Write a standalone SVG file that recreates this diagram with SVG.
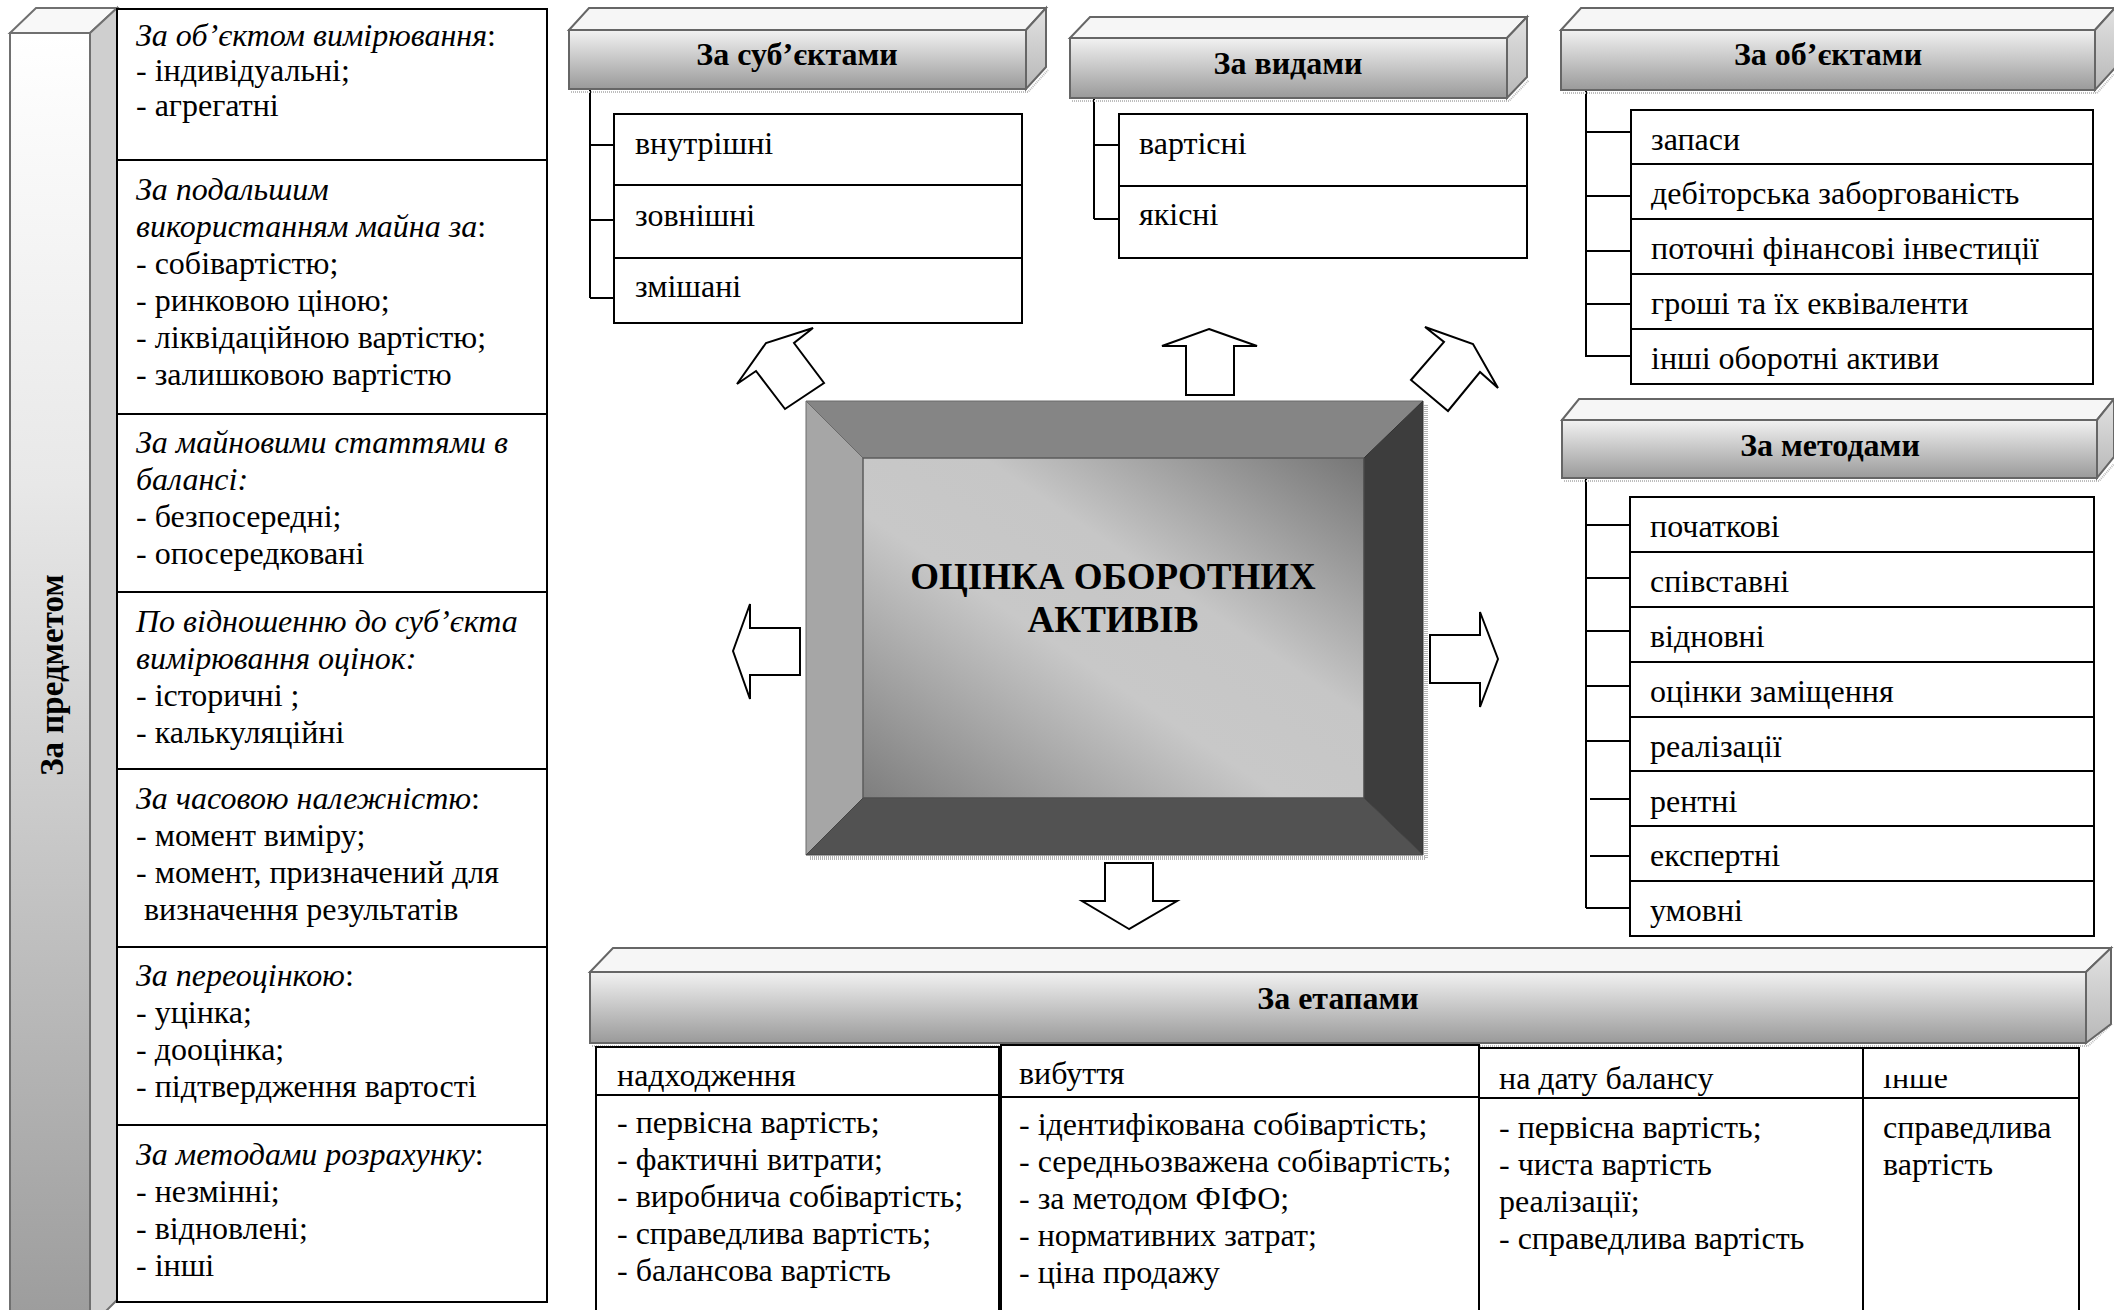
<svg xmlns="http://www.w3.org/2000/svg" width="2114" height="1310" viewBox="0 0 2114 1310">
<defs>
<style>
.t{font-family:"Liberation Serif","Times New Roman",serif;font-size:32px;fill:#000}
.i{font-style:italic}
.h{font-family:"Liberation Serif","Times New Roman",serif;font-size:32px;font-weight:bold;text-anchor:middle;fill:#000}
.box{fill:#fff;stroke:#000;stroke-width:2}
.ln{stroke:#000;stroke-width:2;fill:none}
.arr{fill:#fff;stroke:#000;stroke-width:2}
.hf{fill:url(#gFront);stroke:#666;stroke-width:2}
.ht{fill:#f6f6f6;stroke:#666;stroke-width:2}
.hs{fill:url(#gSide);stroke:#666;stroke-width:2}
.sh{fill:none;stroke:#bdbdbd;stroke-width:2;stroke-dasharray:1 1}
</style>
<linearGradient id="gFront" x1="0" y1="0" x2="0" y2="1">
<stop offset="0" stop-color="#f2f2f2"/><stop offset="1" stop-color="#9a9a9a"/>
</linearGradient>
<linearGradient id="gSide" x1="0" y1="0" x2="0" y2="1">
<stop offset="0" stop-color="#e2e2e2"/><stop offset="1" stop-color="#b8b8b8"/>
</linearGradient>
<linearGradient id="gPillar" x1="0" y1="0" x2="0" y2="1">
<stop offset="0" stop-color="#ffffff"/><stop offset="0.35" stop-color="#e8e8e8"/><stop offset="1" stop-color="#9c9c9c"/>
</linearGradient>
<linearGradient id="gCenter" x1="0" y1="1" x2="1" y2="0">
<stop offset="0" stop-color="#7e7e7e"/><stop offset="0.42" stop-color="#c8c8c8"/><stop offset="0.62" stop-color="#c6c6c6"/><stop offset="1" stop-color="#767676"/>
</linearGradient>
<clipPath id="clipInshe"><rect x="1870" y="1075" width="200" height="22"/></clipPath>
</defs>
<rect width="2114" height="1310" fill="#fff"/>

<!-- Pillar "За предметом" -->
<g id="node-predmet">
<rect x="10" y="33" width="80" height="1290" fill="url(#gPillar)" stroke="#707070" stroke-width="2"/>
<polygon points="10,33 36,8 117,8 90,33" fill="#f8f8f8" stroke="#707070" stroke-width="2"/>
<polygon points="90,33 117,8 117,1300 90,1327" fill="#cfcfcf" stroke="#707070" stroke-width="2"/>
<text class="h" transform="translate(63,675) rotate(-90)" style="font-size:33px">За предметом</text>
</g>

<!-- Left criteria boxes -->
<g id="node-left-1">
<rect class="box" x="117" y="9" width="430" height="151"/>
<text class="t" x="136" y="46"><tspan class="i">За об’єктом вимірювання</tspan>:</text>
<text class="t" x="136" y="81">- індивідуальні;</text>
<text class="t" x="136" y="116">- агрегатні</text>
</g>
<g id="node-left-2">
<rect class="box" x="117" y="160" width="430" height="254"/>
<text class="t i" x="136" y="200">За подальшим</text>
<text class="t" x="136" y="237"><tspan class="i">використанням майна за</tspan>:</text>
<text class="t" x="136" y="274">- собівартістю;</text>
<text class="t" x="136" y="311">- ринковою ціною;</text>
<text class="t" x="136" y="348">- ліквідаційною вартістю;</text>
<text class="t" x="136" y="385">- залишковою вартістю</text>
</g>
<g id="node-left-3">
<rect class="box" x="117" y="414" width="430" height="178"/>
<text class="t i" x="136" y="453">За майновими статтями в</text>
<text class="t i" x="136" y="490">балансі:</text>
<text class="t" x="136" y="527">- безпосередні;</text>
<text class="t" x="136" y="564">- опосередковані</text>
</g>
<g id="node-left-4">
<rect class="box" x="117" y="592" width="430" height="177"/>
<text class="t i" x="136" y="632">По відношенню до суб’єкта</text>
<text class="t i" x="136" y="669">вимірювання оцінок:</text>
<text class="t" x="136" y="706">- історичні ;</text>
<text class="t" x="136" y="743">- калькуляційні</text>
</g>
<g id="node-left-5">
<rect class="box" x="117" y="769" width="430" height="178"/>
<text class="t" x="136" y="809"><tspan class="i">За часовою належністю</tspan>:</text>
<text class="t" x="136" y="846">- момент виміру;</text>
<text class="t" x="136" y="883">- момент, призначений для</text>
<text class="t" x="144" y="920">визначення результатів</text>
</g>
<g id="node-left-6">
<rect class="box" x="117" y="947" width="430" height="178"/>
<text class="t" x="136" y="986"><tspan class="i">За переоцінкою</tspan>:</text>
<text class="t" x="136" y="1023">- уцінка;</text>
<text class="t" x="136" y="1060">- дооцінка;</text>
<text class="t" x="136" y="1097">- підтвердження вартості</text>
</g>
<g id="node-left-7">
<rect class="box" x="117" y="1125" width="430" height="177"/>
<text class="t" x="136" y="1165"><tspan class="i">За методами розрахунку</tspan>:</text>
<text class="t" x="136" y="1202">- незмінні;</text>
<text class="t" x="136" y="1239">- відновлені;</text>
<text class="t" x="136" y="1276">- інші</text>
</g>

<!-- Connectors -->
<g id="connectors">
<path class="ln" d="M590,89 V298 M590,145 H614 M590,220 H614 M590,298 H614"/>
<path class="ln" d="M1094,98 V219 M1094,145 H1119 M1094,219 H1119"/>
<path class="ln" d="M1586,90 V357 M1586,132 H1631 M1586,196 H1631 M1586,251 H1631 M1586,304 H1631 M1586,356 H1631"/>
<path class="ln" d="M1586,478 V908 M1586,525 H1630 M1586,578 H1630 M1586,631 H1630 M1586,686 H1630 M1586,741 H1630 M1590,799 H1633 M1590,856 H1633 M1586,908 H1630"/>
<polygon class="arr" points="813,328 794,343 824,383 785,409 756,371 737,384 766,343"/>
<polygon class="arr" points="1209,329 1257,346 1234,346 1234,395 1186,395 1186,346 1162,346"/>
<polygon class="arr" points="1425,327 1473,344 1498,388 1480,372 1448,411 1411,380 1444,342"/>
<polygon class="arr" points="733,651 750,604 750,628 800,628 800,675 750,675 750,699"/>
<polygon class="arr" points="1498,659 1480,612 1480,635 1430,635 1430,683 1480,683 1480,707"/>
<polygon class="arr" points="1129,929 1082,901 1105,901 1105,863 1153,863 1153,901 1177,901"/>
</g>

<!-- Header: За суб'єктами -->
<g id="node-subjects">
<path class="sh" d="M571,92 H1028 L1048,70"/>
<rect class="hf" x="569" y="30" width="457" height="59"/>
<polygon class="ht" points="569,30 589,8 1046,8 1026,30"/>
<polygon class="hs" points="1026,30 1046,8 1046,67 1026,89"/>
<text class="h" x="797" y="65">За суб’єктами</text>
</g>
<g id="node-subjects-list">
<rect class="box" x="614" y="114" width="408" height="209"/>
<path class="ln" d="M614,185 H1022 M614,258 H1022"/>
<text class="t" x="635" y="154">внутрішні</text>
<text class="t" x="635" y="226">зовнішні</text>
<text class="t" x="635" y="297">змішані</text>
</g>

<!-- Header: За видами -->
<g id="node-kinds">
<path class="sh" d="M1072,101 H1509 L1529,80"/>
<rect class="hf" x="1070" y="38" width="437" height="60"/>
<polygon class="ht" points="1070,38 1090,17 1527,17 1507,38"/>
<polygon class="hs" points="1507,38 1527,17 1527,77 1507,98"/>
<text class="h" x="1288" y="74">За видами</text>
</g>
<g id="node-kinds-list">
<rect class="box" x="1119" y="114" width="408" height="144"/>
<path class="ln" d="M1119,186 H1527"/>
<text class="t" x="1139" y="154">вартісні</text>
<text class="t" x="1139" y="225">якісні</text>
</g>

<!-- Header: За об'єктами -->
<g id="node-objects">
<path class="sh" d="M1563,93 H2097 L2114,74"/>
<rect class="hf" x="1561" y="30" width="534" height="60"/>
<polygon class="ht" points="1561,30 1581,8 2115,8 2095,30"/>
<polygon class="hs" points="2095,30 2115,8 2115,68 2095,90"/>
<text class="h" x="1828" y="65">За об’єктами</text>
</g>
<g id="node-objects-list">
<rect class="box" x="1631" y="110" width="462" height="274"/>
<path class="ln" d="M1631,164 H2093 M1631,219 H2093 M1631,274 H2093 M1631,329 H2093"/>
<text class="t" x="1651" y="150">запаси</text>
<text class="t" x="1651" y="204">дебіторська заборгованість</text>
<text class="t" x="1651" y="259">поточні фінансові інвестиції</text>
<text class="t" x="1651" y="314">гроші та їх еквіваленти</text>
<text class="t" x="1651" y="369">інші оборотні активи</text>
</g>

<!-- Header: За методами -->
<g id="node-methods">
<path class="sh" d="M1564,481 H2099 L2114,464"/>
<rect class="hf" x="1562" y="420" width="535" height="58"/>
<polygon class="ht" points="1562,420 1579,399 2114,399 2097,420"/>
<polygon class="hs" points="2097,420 2114,399 2114,457 2097,478"/>
<text class="h" x="1830" y="456">За методами</text>
</g>
<g id="node-methods-list">
<rect class="box" x="1630" y="497" width="464" height="439"/>
<path class="ln" d="M1630,552 H2094 M1630,607 H2094 M1630,662 H2094 M1630,717 H2094 M1630,771 H2094 M1630,826 H2094 M1630,881 H2094"/>
<text class="t" x="1650" y="537">початкові</text>
<text class="t" x="1650" y="592">співставні</text>
<text class="t" x="1650" y="647">відновні</text>
<text class="t" x="1650" y="702">оцінки заміщення</text>
<text class="t" x="1650" y="757">реалізації</text>
<text class="t" x="1650" y="812">рентні</text>
<text class="t" x="1650" y="866">експертні</text>
<text class="t" x="1650" y="921">умовні</text>
</g>

<!-- Center -->
<g id="node-center">
<path d="M810,858 H1426 V404" fill="none" stroke="#b4b4b4" stroke-width="4" stroke-dasharray="1 1"/>
<rect x="863" y="458" width="501" height="340" fill="url(#gCenter)"/>
<polygon points="806,401 1423,401 1364,458 863,458" fill="#858585" stroke="#6a6a6a" stroke-width="1"/>
<polygon points="806,401 863,458 863,798 806,855" fill="#a6a6a6" stroke="#6a6a6a" stroke-width="1"/>
<polygon points="1423,401 1423,855 1364,798 1364,458" fill="#3d3d3d" stroke="#333" stroke-width="1"/>
<polygon points="806,855 863,798 1364,798 1423,855" fill="#525252" stroke="#444" stroke-width="1"/>
<rect x="863" y="458" width="501" height="340" fill="none" stroke="#555" stroke-width="1"/>
<text class="h" x="1113" y="589" style="font-size:37px">ОЦІНКА ОБОРОТНИХ</text>
<text class="h" x="1113" y="632" style="font-size:37px">АКТИВІВ</text>
</g>

<!-- Header: За етапами -->
<g id="node-stages">
<path class="sh" d="M592,1046 H2088 L2112,1024"/>
<rect class="hf" x="590" y="972" width="1496" height="71"/>
<polygon class="ht" points="590,972 613,948 2111,948 2086,972"/>
<polygon class="hs" points="2086,972 2111,948 2111,1024 2086,1043"/>
<text class="h" x="1338" y="1009">За етапами</text>
</g>
<g id="node-stage-1">
<path class="box" d="M596,1316 V1047 H999 V1316"/>
<path class="ln" d="M596,1095 H999"/>
<text class="t" x="617" y="1086">надходження</text>
<text class="t" x="617" y="1133">- первісна вартість;</text>
<text class="t" x="617" y="1170">- фактичні витрати;</text>
<text class="t" x="617" y="1207">- виробнича собівартість;</text>
<text class="t" x="617" y="1244">- справедлива вартість;</text>
<text class="t" x="617" y="1281">- балансова вартість</text>
</g>
<g id="node-stage-2">
<path class="box" d="M1001,1316 V1045 H1479 V1316"/>
<path class="ln" d="M1001,1097 H1479"/>
<text class="t" x="1019" y="1084">вибуття</text>
<text class="t" x="1019" y="1135">- ідентифікована собівартість;</text>
<text class="t" x="1019" y="1172">- середньозважена собівартість;</text>
<text class="t" x="1019" y="1209">- за методом ФІФО;</text>
<text class="t" x="1019" y="1246">- нормативних затрат;</text>
<text class="t" x="1019" y="1283">- ціна продажу</text>
</g>
<g id="node-stage-3">
<path class="ln" d="M1479,1048 H1863 V1316 M1479,1098 H1863"/>
<text class="t" x="1499" y="1089">на дату балансу</text>
<text class="t" x="1499" y="1138">- первісна вартість;</text>
<text class="t" x="1499" y="1175">- чиста вартість</text>
<text class="t" x="1499" y="1212">реалізації;</text>
<text class="t" x="1499" y="1249">- справедлива вартість</text>
</g>
<g id="node-stage-4">
<path class="ln" d="M1863,1048 H2079 V1316 M1863,1098 H2079"/>
<text class="t" x="1883" y="1088" clip-path="url(#clipInshe)">інше</text>
<text class="t" x="1883" y="1138">справедлива</text>
<text class="t" x="1883" y="1175">вартість</text>
</g>
</svg>
